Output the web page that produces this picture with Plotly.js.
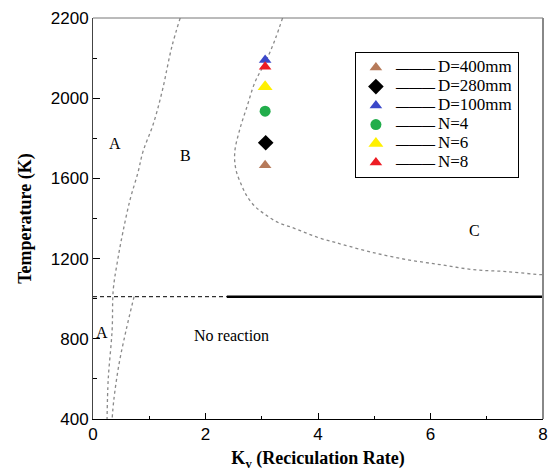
<!DOCTYPE html>
<html><head><meta charset="utf-8">
<script src="https://cdn.plot.ly/plotly-3.0.1.min.js"></script>
<style>html,body{margin:0;padding:0;background:#fff}#chart{width:548px;height:471px}</style>
</head><body><div id="chart"></div>
<script>
// Measured points
const seriesNames = ['D=400mm','D=280mm','D=100mm','N=4','N=6','N=8'];
const seriesKv = [3.06, 3.07, 3.06, 3.06, 3.06, 3.06];
const seriesTemp = [1665, 1778, 2190, 1935, 2057, 2157];
const seriesSymbols = ['triangle-up','diamond','triangle-up','circle','triangle-up','triangle-up'];
const seriesColors = ['#b67a5a','#000000','#3b48c9','#21ad4b','#fff000','#ed1c24'];
const seriesSizes = [11, 12, 11, 11, 13, 11];

// Region boundaries (dashed)
const boundaryA_kv = [1.55, 1.40, 1.23, 1.07, 0.89, 0.80, 0.66, 0.53, 0.44, 0.36, 0.34, 0.27, 0.25];
const boundaryA_T  = [2400, 2255, 2035, 1870, 1735, 1630, 1495, 1330, 1195, 1045, 845, 595, 400];
const boundaryA2_kv = [0.73, 0.59, 0.46, 0.37, 0.34];
const boundaryA2_T  = [1010, 845, 670, 495, 400];
const boundaryC_kv = [3.37, 3.24, 3.09, 2.88, 2.74, 2.61, 2.52, 2.54, 2.65, 2.74, 2.88, 3.06, 3.29, 3.54, 3.77, 4.00, 4.25, 4.44, 4.98, 5.58, 6.17, 6.76, 7.36, 7.95, 8.0];
const boundaryC_T  = [2400, 2295, 2195, 2080, 1960, 1845, 1730, 1645, 1560, 1510, 1460, 1420, 1380, 1355, 1330, 1305, 1285, 1270, 1230, 1195, 1170, 1145, 1135, 1120, 1120];

// No-reaction limit
const limitT = 1010;
const limitDashedKv = [0, 2.38];
const limitSolidKv = [2.38, 8];

// Region labels
const regionLabels = ['A', 'B', 'C', 'A', 'No reaction'];
const regionKv = [0.39, 1.65, 6.79, 0.16, 2.47];
const regionT = [1775, 1715, 1340, 830, 815];

// Axis ticks
const xTickVals = [0, 2, 4, 6, 8];
const xMinorVals = [1, 3, 5, 7];
const yTickVals = [400, 800, 1200, 1600, 2000, 2400];
const yTickText = ['400', '800', '1200', '1600', '2000', '2200'];
const yMinorVals = [600, 1000, 1400, 1800, 2200];

const dashGray = {color: '#8a8a8a', width: 1.3, dash: '3px,3px'};
const traces = [
  {x: boundaryA_kv, y: boundaryA_T, mode: 'lines', line: Object.assign({shape: 'spline'}, dashGray), showlegend: false, hoverinfo: 'skip'},
  {x: boundaryA2_kv, y: boundaryA2_T, mode: 'lines', line: Object.assign({shape: 'spline'}, dashGray), showlegend: false, hoverinfo: 'skip'},
  {x: boundaryC_kv, y: boundaryC_T, mode: 'lines', line: Object.assign({shape: 'spline'}, dashGray), showlegend: false, hoverinfo: 'skip'},
  {x: limitDashedKv, y: [limitT, limitT], mode: 'lines', line: {color: '#000', width: 1, dash: '4px,3px'}, showlegend: false, hoverinfo: 'skip'},
  {x: limitSolidKv, y: [limitT, limitT], mode: 'lines', line: {color: '#000', width: 2.5}, showlegend: false, hoverinfo: 'skip'}
];
seriesNames.forEach((n, i) => {
  traces.push({
    x: [seriesKv[i]], y: [seriesTemp[i]], mode: 'markers',
    name: '<b><span style="font-size:13px">———</span></b> <span style="font-size:17px">' + n + '</span>',
    marker: {symbol: seriesSymbols[i], color: seriesColors[i], size: seriesSizes[i], line: {width: 0}}
  });
});

const serif = 'Liberation Serif, Times New Roman, serif';
const sans = 'Liberation Sans, Arial, sans-serif';
const layout = {
  width: 548, height: 471,
  margin: {l: 93, r: 5, t: 18, b: 52},
  paper_bgcolor: '#fff', plot_bgcolor: '#fff',
  showlegend: true,
  xaxis: {
    range: [0, 8], tickmode: 'array', tickvals: xTickVals, ticks: 'inside', ticklen: 6, tickcolor: '#000',
    minor: {tickmode: 'array', tickvals: xMinorVals, ticks: 'inside', ticklen: 3, tickcolor: '#000'},
    showgrid: false, zeroline: false, showline: true, linecolor: '#000', linewidth: 1,
    tickfont: {family: sans, size: 17, color: '#000'},
    title: {text: '<b>K<sub>v</sub> (Reciculation Rate)</b>', font: {family: serif, size: 18, color: '#000'}, standoff: 8}
  },
  yaxis: {
    range: [400, 2400], tickmode: 'array', tickvals: yTickVals, ticktext: yTickText, ticks: 'inside', ticklen: 7, tickcolor: '#000',
    minor: {tickmode: 'array', tickvals: yMinorVals, ticks: 'inside', ticklen: 4, tickcolor: '#000'},
    showgrid: false, zeroline: false, showline: true, linecolor: '#444', linewidth: 1,
    tickfont: {family: sans, size: 17, color: '#000'},
    title: {text: '<b>Temperature (K)</b>', font: {family: serif, size: 18, color: '#000'}, standoff: 14}
  },
  legend: {
    x: 0.582, y: 0.915, xanchor: 'left', yanchor: 'top',
    bordercolor: '#000', borderwidth: 1, bgcolor: '#fff',
    font: {family: serif, size: 12, color: '#000'}, tracegroupgap: 0
  },
  annotations: regionLabels.map((t, i) => ({
    x: regionKv[i], y: regionT[i], xref: 'x', yref: 'y', text: t, showarrow: false,
    font: {family: serif, size: 16, color: '#000'}
  })),
  shapes: [
    {type: 'line', xref: 'paper', yref: 'paper', x0: 0, x1: 1, y0: 1, y1: 1, line: {color: '#777', width: 1}},
    {type: 'line', xref: 'paper', yref: 'paper', x0: 1, x1: 1, y0: 0, y1: 1, line: {color: '#888', width: 2}}
  ]
};
Plotly.newPlot('chart', traces, layout, {displayModeBar: false, staticPlot: true});
</script></body></html>
